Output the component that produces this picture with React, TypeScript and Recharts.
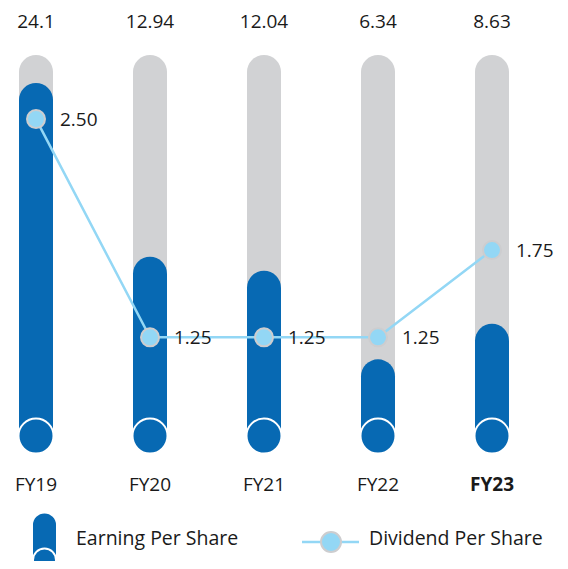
import React from 'react';
import { ComposedChart, Bar, Line, XAxis, YAxis, LabelList, Legend } from 'recharts';

const fiscalYears = ['FY19', 'FY20', 'FY21', 'FY22', 'FY23'];
const earningPerShare = [24.1, 12.94, 12.04, 6.34, 8.63];
const dividendPerShare = [2.5, 1.25, 1.25, 1.25, 1.75];

const chartData = fiscalYears.map((fy, i) => ({
  fy,
  eps: earningPerShare[i],
  dps: dividendPerShare[i],
}));

const BLUE = '#0769b3';
const GREY = '#d1d2d4';
const SKY = '#93d7f5';
const FONT = '"Open Sans", "Noto Sans", sans-serif';
const CAP_OFFSET = 22; // circle centre sits this far above the baseline

// grey track behind each bar + EPS value on top of it
const Track = (props: any) => {
  const { x, y, width, height, payload, index } = props;
  const r = width / 2;
  const bottom = y + height - CAP_OFFSET;
  const eps = payload?.eps ?? earningPerShare[index];
  return (
    <g>
      <path
        d={`M${x},${bottom} L${x},${y + r} A${r},${r} 0 0 1 ${x + width},${y + r} L${x + width},${bottom} Z`}
        fill={GREY}
      />
      <text x={x + r} y={y - 27} textAnchor="middle" fontSize={19} fill="#1a1a1a" fontFamily={FONT}>
        {eps}
      </text>
    </g>
  );
};

const EpsBar = (props: any) => {
  const { x, y, width, height } = props;
  const r = width / 2;
  const cy = y + height - CAP_OFFSET;
  const top = Math.min(y, cy - r);
  return (
    <g>
      <path
        d={`M${x},${cy} L${x},${top + r} A${r},${r} 0 0 1 ${x + width},${top + r} L${x + width},${cy} Z`}
        fill={BLUE}
      />
      <circle cx={x + r} cy={cy} r={17.5} fill={BLUE} stroke="#fff" strokeWidth={2} />
    </g>
  );
};

const YearTick = (props: any) => {
  const { x, y, payload } = props;
  return (
    <text
      x={x}
      y={y}
      dy="0.71em"
      textAnchor="middle"
      fontSize={19}
      fill="#1a1a1a"
      fontFamily={FONT}
      fontWeight={payload.value === 'FY23' ? 700 : 400}
    >
      {payload.value}
    </text>
  );
};

const renderLegend = (props: any) => {
  const items = props.payload || [];
  return (
    <svg width={568} height={64}>
      {items.map((item: any) =>
        item.dataKey === 'eps' ? (
          <g key={item.value}>
            <path d="M33,56 L33,20 A11.5,11.5 0 0 1 56,20 L56,56 Z" fill={BLUE} />
            <circle cx={44.5} cy={55} r={11.5} fill={BLUE} stroke="#fff" strokeWidth={2} />
            <text x={76} y={40} fontSize={19.5} fill="#1a1a1a" fontFamily={FONT}>
              {item.value}
            </text>
          </g>
        ) : (
          <g key={item.value}>
            <line x1={302} x2={359} y1={37} y2={37} stroke={SKY} strokeWidth={2.5} />
            <circle cx={331} cy={37} r={10} fill={SKY} stroke="#cdcdcf" strokeWidth={2} />
            <text x={369} y={40} fontSize={19.5} fill="#1a1a1a" fontFamily={FONT}>
              {item.value}
            </text>
          </g>
        )
      )}
    </svg>
  );
};

export default function App() {
  return (
    <div style={{ position: 'relative', width: 568, height: 569, margin: -8, overflow: 'hidden', fontFamily: FONT }}>
      <div style={{ position: 'absolute', left: -21, top: 0 }}>
        <ComposedChart width={610} height={569} data={chartData} margin={{ top: 55, right: 40, bottom: 81, left: 0 }}>
          <XAxis
            dataKey="fy"
            axisLine={false}
            tickLine={false}
            tickSize={0}
            tickMargin={20}
            height={30}
            interval={0}
            tick={<YearTick />}
          />
          <YAxis yAxisId="eps" hide domain={[0, 25.9]} />
          <YAxis yAxisId="dps" hide orientation="right" domain={[0.559, 2.867]} />
          <Legend
            verticalAlign="middle"
            align="center"
            layout="horizontal"
            content={renderLegend}
            wrapperStyle={{ position: 'absolute', left: 21, top: 505, width: 568, height: 64 }}
          />
          <Bar
            yAxisId="eps"
            dataKey="eps"
            name="Earning Per Share"
            fill={BLUE}
            barSize={34}
            background={Track}
            shape={<EpsBar />}
            isAnimationActive={false}
          />
          <Line
            yAxisId="dps"
            dataKey="dps"
            name="Dividend Per Share"
            type="linear"
            stroke={SKY}
            strokeWidth={2.5}
            dot={{ r: 9, fill: SKY, stroke: '#cdcdcf', strokeWidth: 2 }}
            activeDot={false}
            isAnimationActive={false}
          >
            <LabelList
              dataKey="dps"
              position="right"
              offset={24}
              formatter={(v: any) => Number(v).toFixed(2)}
              style={{ fontSize: 19, fill: '#1a1a1a', fontFamily: FONT }}
            />
          </Line>
        </ComposedChart>
      </div>
    </div>
  );
}
